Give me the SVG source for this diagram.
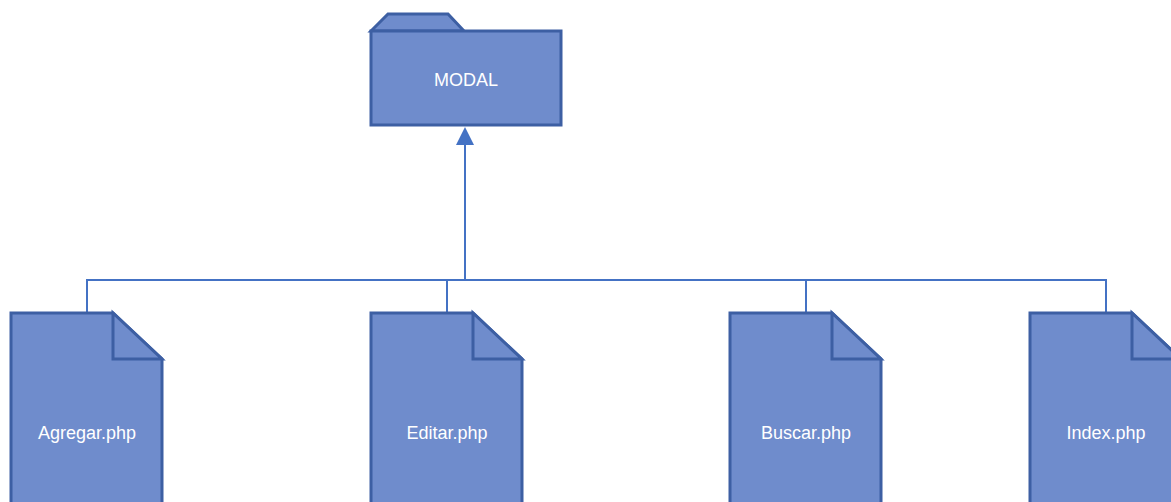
<svg xmlns="http://www.w3.org/2000/svg" width="1171" height="502" viewBox="0 0 1171 502">
<defs>
<style>
.shape{fill:#6f8ccc;stroke:#3d5fa3;stroke-width:3;stroke-linejoin:miter}
.conn{fill:none;stroke:#4472c4;stroke-width:2}
.lbl{font-family:"Liberation Sans",Arial,sans-serif;font-size:18px;fill:#ffffff;text-anchor:middle}
</style>
</defs>
<rect width="1171" height="502" fill="#ffffff"/>
<g id="connectors">
<path class="conn" d="M87,313 V280 H1106 V313 M447,280 V313 M806,280 V313"/>
<line class="conn" x1="465" y1="280" x2="465" y2="145"/>
<path d="M465,127 L474,145 L456,145 Z" fill="#4472c4"/>
</g>
<g id="modal">
<path class="shape" d="M371,31 L388,14 L448,14 L464,31 Z"/>
<rect class="shape" x="371" y="31" width="190" height="94"/>
<text class="lbl" x="466" y="86">MODAL</text>
</g>
<g id="agregar">
<path class="shape" d="M11,313 H113 L162,359 V512 H11 Z"/>
<path class="shape" d="M113,313 V359 H162 Z"/>
<text class="lbl" x="87" y="439">Agregar.php</text>
</g>
<g id="editar">
<path class="shape" d="M371,313 H473 L522,359 V512 H371 Z"/>
<path class="shape" d="M473,313 V359 H522 Z"/>
<text class="lbl" x="447" y="439">Editar.php</text>
</g>
<g id="buscar">
<path class="shape" d="M730,313 H832 L881,359 V512 H730 Z"/>
<path class="shape" d="M832,313 V359 H881 Z"/>
<text class="lbl" x="806" y="439">Buscar.php</text>
</g>
<g id="index">
<path class="shape" d="M1030,313 H1132 L1181,359 V512 H1030 Z"/>
<path class="shape" d="M1132,313 V359 H1181 Z"/>
<text class="lbl" x="1106" y="439">Index.php</text>
</g>
</svg>
